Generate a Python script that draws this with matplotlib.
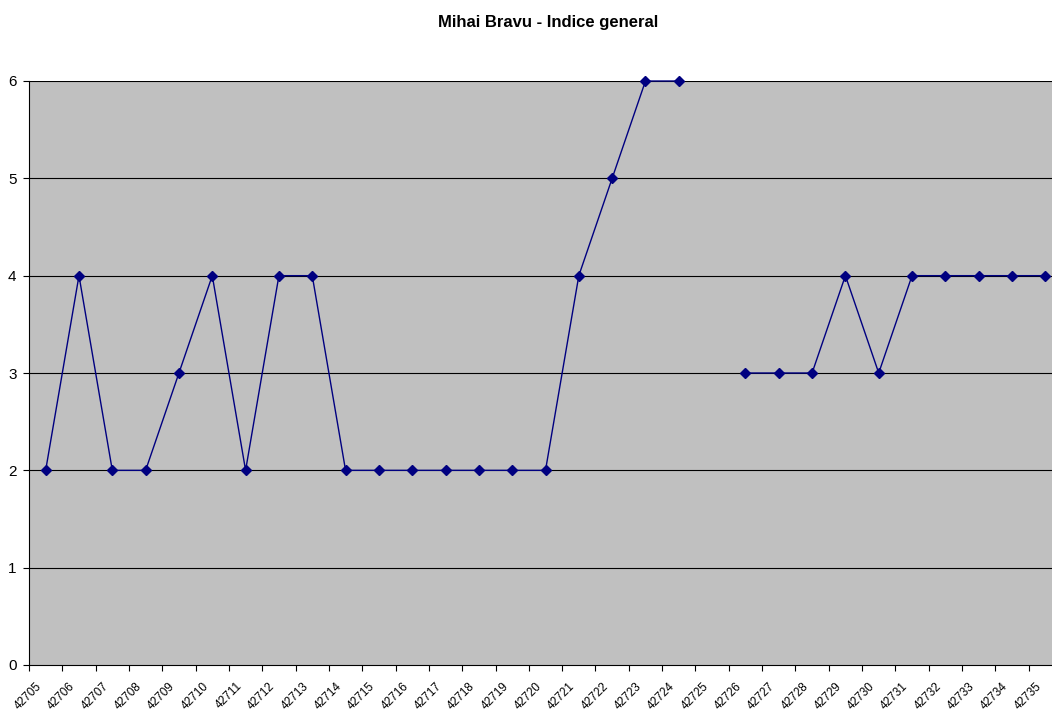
import numpy as np
import matplotlib.pyplot as plt
from matplotlib.transforms import ScaledTranslation

plt.rcParams['font.family'] = ['Liberation Sans', 'DejaVu Sans']

# category labels and values (nan = no data)
days = [str(d) for d in range(42705, 42736)]
values = [2, 4, 2, 2, 3, 4, 2, 4, 4, 2, 2, 2, 2, 2, 2, 2, 4, 5, 6, 6, np.nan,
          3, 3, 3, 4, 3, 4, 4, 4, 4, 4]
y_ticks = [0, 1, 2, 3, 4, 5, 6]

fig = plt.figure(figsize=(10.52, 7.11), dpi=100)
# plot area runs a little past the right edge of the image, as in the original
ax = fig.add_axes([29 / 1052, 1 - 665 / 711, 1033 / 1052, 584 / 711])
ax.set_facecolor('#c0c0c0')

x = np.arange(len(days))
ax.plot(x, values, color='#000080', lw=1.0, marker='D', markersize=5,
        markerfacecolor='#000080', markeredgecolor='#000080', clip_on=False, zorder=3)

ax.set_xlim(-0.5, len(days) - 0.5)
ax.set_ylim(0, 6)
ax.set_yticks(y_ticks)
ax.set_yticklabels([str(v) for v in y_ticks], fontsize=11)
for v in y_ticks[1:]:
    ax.axhline(v, color='black', lw=0.8, zorder=1)

# labels centred in categories, tick marks on category edges
ax.set_xticks(x)
ax.set_xticklabels(days, rotation=45, ha='right', rotation_mode='anchor', fontsize=8.5)
ax.tick_params(axis='x', which='major', length=0, pad=11)
shift = ScaledTranslation(-10 / 100, 0, fig.dpi_scale_trans)
for lbl in ax.get_xticklabels():
    lbl.set_transform(lbl.get_transform() + shift)
ax.set_xticks(np.arange(len(days) + 1) - 0.5, minor=True)
ax.tick_params(axis='x', which='minor', length=4, width=0.8, direction='out')
ax.tick_params(axis='y', length=4, width=0.8, direction='out', pad=5)

ax.spines['top'].set_visible(False)
ax.spines['right'].set_visible(False)
ax.spines['left'].set_linewidth(0.8)
ax.spines['bottom'].set_linewidth(0.8)

fig.text(548 / 1052, 1 - 22 / 711, 'Mihai Bravu - Indice general', ha='center', va='center',
         fontsize=12, fontweight='bold')

fig.savefig('out.png', dpi=100)
